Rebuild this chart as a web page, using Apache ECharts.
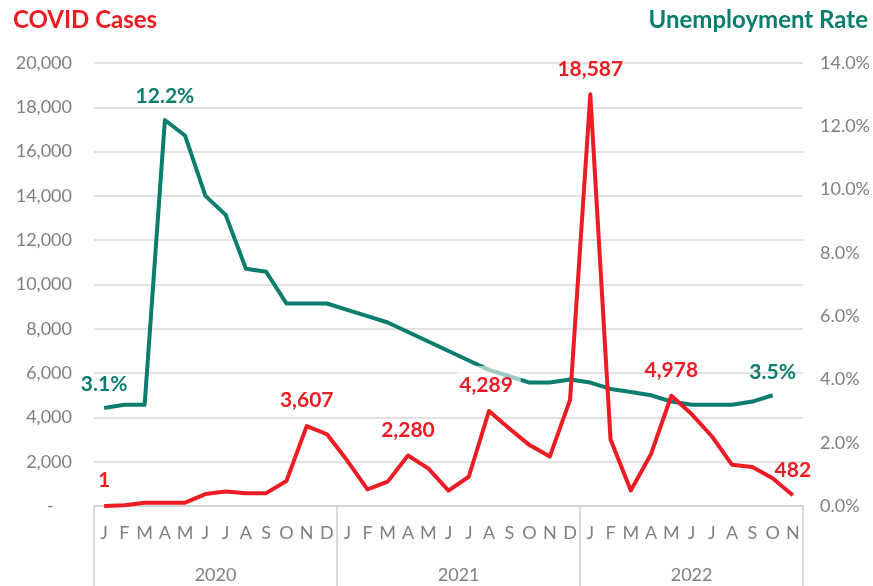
<!DOCTYPE html>
<html>
<head>
<meta charset="utf-8">
<script src="https://cdn.jsdelivr.net/npm/echarts@6/dist/echarts.min.js"></script>
<style>
  html, body { margin: 0; padding: 0; background: #fff; }
  #chart { width: 873px; height: 586px; }
</style>
</head>
<body>
<div id="chart"></div>
<script>
  // month letters, one per point (Jan 2020 - Nov 2022)
  var monthLetters = ['J','F','M','A','M','J','J','A','S','O','N','D'];
  var months = monthLetters.concat(monthLetters, monthLetters.slice(0, 11));
  var years = ['2020', '2021', '2022'];
  var yearCenters = [6, 18, 29.5];

  // monthly COVID cases
  var covidCases = [
    1, 30, 150, 150, 150, 540, 650, 580, 580, 1130, 3607, 3240,
    2050, 750, 1100, 2280, 1700, 690, 1320, 4289, 3500, 2750, 2230, 4790,
    18587, 3000, 700, 2350, 4978, 4150, 3150, 1860, 1760, 1250, 482
  ];
  // unemployment rate, % (ends Oct 2022)
  var unemployment = [
    3.1, 3.2, 3.2, 12.2, 11.7, 9.8, 9.2, 7.5, 7.4, 6.4, 6.4, 6.4,
    6.2, 6.0, 5.8, 5.5, 5.2, 4.9, 4.6, 4.3, 4.1, 3.9, 3.9, 4.0,
    3.9, 3.7, 3.6, 3.5, 3.3, 3.2, 3.2, 3.2, 3.3, 3.5
  ];
  // which points get a value label
  var caseLabelIdx = [0, 10, 15, 19, 24, 28, 34];
  var rateLabelIdx = [0, 3, 33];

  var RED = '#ec1c24';
  var TEAL = '#0a7d6d';
  var GREY = '#808080';
  var FONT = 'Lato, sans-serif';

  var chart = echarts.init(document.getElementById('chart'));

  var caseData = covidCases.map(function (v, i) {
    var item = { value: v };
    if (caseLabelIdx.indexOf(i) !== -1) {
      item.label = { show: true };
      if (v === 4289) {
        item.label.backgroundColor = 'rgba(255,255,255,0.6)';
        item.label.padding = [9, 8, 0, 2];
      }
    }
    return item;
  });
  var rateData = unemployment.map(function (v, i) {
    return rateLabelIdx.indexOf(i) !== -1 ? { value: v, label: { show: true } } : v;
  });

  chart.setOption({
    animation: false,
    title: [
      { text: 'COVID Cases', left: 8, top: 3,
        textStyle: { color: RED, fontSize: 24, fontWeight: 'bold', fontFamily: FONT } },
      { text: 'Unemployment Rate', right: 0, top: 3,
        textStyle: { color: TEAL, fontSize: 24, fontWeight: 'bold', fontFamily: FONT } }
    ],
    grid: { left: 94, right: 68, top: 63, bottom: 80 },
    xAxis: [
      {
        type: 'category',
        data: months,
        boundaryGap: true,
        axisLine: { lineStyle: { color: '#d0d0d0', width: 1.5 } },
        axisTick: {
          show: true, length: 82, inside: false,
          lineStyle: { color: '#d0d0d0', width: 1.5 },
          interval: function (i) { return i === 0 || i === 12 || i === 24; }
        },
        axisLabel: { interval: 0, color: GREY, fontSize: 18, fontFamily: FONT, margin: 18 }
      },
      {
        type: 'value',
        min: 0, max: 35,
        position: 'bottom',
        axisLine: { show: false },
        axisTick: { show: false },
        splitLine: { show: false },
        axisLabel: {
          customValues: yearCenters,
          color: GREY, fontSize: 18, fontFamily: FONT, margin: 60,
          formatter: function (v) { return years[yearCenters.indexOf(v)]; }
        }
      }
    ],
    yAxis: [
      {
        type: 'value', min: 0, max: 20000, interval: 2000,
        axisLine: { show: false }, axisTick: { show: false },
        splitLine: { lineStyle: { color: '#d9d9d9', width: 1.5 } },
        axisLabel: {
          color: GREY, fontSize: 18, fontFamily: FONT, margin: 22,
          formatter: function (v) { return v === 0 ? '-    ' : v.toLocaleString('en-US'); }
        }
      },
      {
        type: 'value', min: 0, max: 14, interval: 2,
        axisLine: { show: false }, axisTick: { show: false },
        splitLine: { show: false },
        axisLabel: {
          color: GREY, fontSize: 18, fontFamily: FONT, margin: 17,
          formatter: function (v) { return v.toFixed(1) + '%'; }
        }
      }
    ],
    series: [
      {
        name: 'Unemployment Rate',
        type: 'line',
        yAxisIndex: 1,
        data: rateData,
        symbol: 'circle',
        symbolSize: 0,
        showAllSymbol: true,
        lineStyle: { color: TEAL, width: 4, join: 'round' },
        itemStyle: { color: TEAL },
        label: {
          position: 'top', distance: 13,
          color: TEAL, fontSize: 21, fontWeight: 'bold', fontFamily: FONT,
          formatter: function (p) { return p.value.toFixed(1) + '%'; }
        },
        z: 2
      },
      {
        name: 'COVID Cases',
        type: 'line',
        data: caseData,
        symbol: 'circle',
        symbolSize: 0,
        showAllSymbol: true,
        lineStyle: { color: RED, width: 4, join: 'round' },
        itemStyle: { color: RED },
        label: {
          position: 'top', distance: 15,
          color: RED, fontSize: 21, fontWeight: 'bold', fontFamily: FONT,
          formatter: function (p) { return p.value.toLocaleString('en-US'); }
        },
        z: 3
      }
    ]
  });
</script>
</body>
</html>
